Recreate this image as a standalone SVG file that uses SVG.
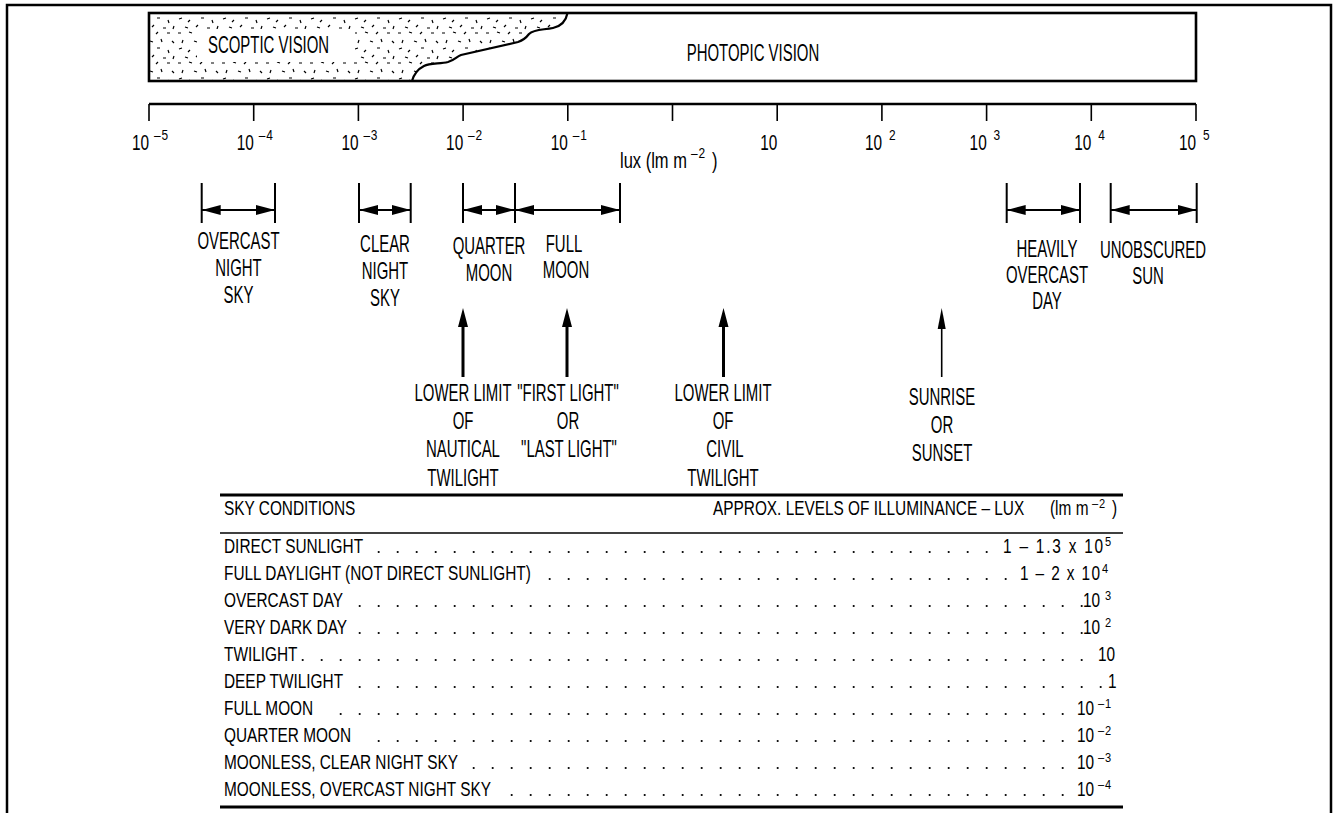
<svg xmlns="http://www.w3.org/2000/svg" width="1337" height="813" viewBox="0 0 1337 813">
<defs>
<style>
text{font-family:"Liberation Sans",Arial,sans-serif;fill:#000}
.lb{font-size:23px;text-anchor:middle}
.ax{font-size:22px}
.sp{font-size:14px;letter-spacing:1px}
.tb{font-size:20px}
.ts{font-size:13px;letter-spacing:1px}
.thin{stroke:#000;stroke-width:1.6;fill:none}
.med{stroke:#000;stroke-width:2.2;fill:none}
.thick{stroke:#000;stroke-width:3;fill:none}
.dots{stroke:#000;stroke-width:2.2;stroke-linecap:round;stroke-dasharray:0 19;fill:none}
</style>
<pattern id="stip" patternUnits="userSpaceOnUse" width="44" height="30">
<path d="M2 3h3M13 2l3 1M24 4l2-2M35 3h3M7 10l-1 3M18 11l3 1M29 9l1 3M40 11l2 2M3 19l3-1M14 20l-2 2M25 18h3M36 20l1 3M9 27l3 1M20 27l2-2M31 28h3M42 26l-1 3" stroke="#000" stroke-width="1.2" fill="none"/>
</pattern>
<marker id="ah" markerUnits="userSpaceOnUse" viewBox="0 0 19 10" refX="19" refY="5" markerWidth="19" markerHeight="10" orient="auto-start-reverse">
<path d="M0,0 L19,5 L0,10 Z" fill="#000"/>
</marker>
</defs>

<g id="frame"><path d="M7,813 V5 H1331 V813" class="thick" style="stroke-width:2.5"/></g>

<g id="vision-bar">
<path d="M149,13 H567.5 C566,21 562,26 553,28 C543,30 534,29 529,34 C526,38 524,40 518,42 L461,55 C456,57 455,60 448,62 C440,64 430,63 424,66 C418,69 414,74 412,81 H149 Z" fill="url(#stip)"/>
<rect x="197" y="29" width="158" height="33" fill="#fff"/>
<path d="M567.5,13 C566,21 562,26 553,28 C543,30 534,29 529,34 C526,38 524,40 518,42 L461,55 C456,57 455,60 448,62 C440,64 430,63 424,66 C418,69 414,74 412,81" class="med"/>
<rect x="149" y="13" width="1047" height="68" class="thick" style="stroke-width:2.6"/>
<text class="lb" style="text-anchor:start" transform="translate(208 53) scale(0.65 1)">SCOPTIC VISION</text>
<text class="lb" transform="translate(753 61) scale(0.65 1)">PHOTOPIC VISION</text>
</g>

<g id="axis">
<path d="M149,104 H1196" class="thick" style="stroke-width:2.6"/>
<path d="M149,104V121M253.7,104V121M358.4,104V121M463.1,104V121M567.8,104V121M672.5,104V121M777.2,104V121M881.9,104V121M986.6,104V121M1091.3,104V121M1196,104V121" class="thin"/>
<text class="ax" transform="translate(132 150) scale(0.7 1)">10</text><text class="sp" transform="translate(154 140) scale(0.85 1)">–5</text>
<text class="ax" transform="translate(236.7 150) scale(0.7 1)">10</text><text class="sp" transform="translate(258.7 140) scale(0.85 1)">–4</text>
<text class="ax" transform="translate(341.4 150) scale(0.7 1)">10</text><text class="sp" transform="translate(363.4 140) scale(0.85 1)">–3</text>
<text class="ax" transform="translate(446.1 150) scale(0.7 1)">10</text><text class="sp" transform="translate(468.1 140) scale(0.85 1)">–2</text>
<text class="ax" transform="translate(550.8 150) scale(0.7 1)">10</text><text class="sp" transform="translate(572.8 140) scale(0.85 1)">–1</text>
<text class="ax" transform="translate(760.2 150) scale(0.7 1)">10</text>
<text class="ax" transform="translate(864.9 150) scale(0.7 1)">10</text><text class="sp" transform="translate(888.9 140) scale(0.85 1)">2</text>
<text class="ax" transform="translate(969.6 150) scale(0.7 1)">10</text><text class="sp" transform="translate(993.6 140) scale(0.85 1)">3</text>
<text class="ax" transform="translate(1074.3 150) scale(0.7 1)">10</text><text class="sp" transform="translate(1098.3 140) scale(0.85 1)">4</text>
<text class="ax" transform="translate(1179 150) scale(0.7 1)">10</text><text class="sp" transform="translate(1203 140) scale(0.85 1)">5</text>
<text class="ax" transform="translate(620 168) scale(0.75 1)">lux (lm m</text><text class="sp" transform="translate(691 158) scale(0.85 1)">–2</text><text class="ax" transform="translate(712 168) scale(0.75 1)">)</text>
</g>

<g id="connectors">
<path d="M201.7,183V223M275,183V223M359,183V223M410.7,183V223M463,183V223M515,183V223M620,183V223M1006.7,183V223M1080,183V223M1110.7,183V223M1196.7,183V223" class="med" style="stroke-width:2"/>
<line x1="201.7" y1="210" x2="275" y2="210" class="med" marker-start="url(#ah)" marker-end="url(#ah)"/>
<line x1="359" y1="210" x2="410.7" y2="210" class="med" marker-start="url(#ah)" marker-end="url(#ah)"/>
<line x1="463" y1="210" x2="515" y2="210" class="med" marker-start="url(#ah)" marker-end="url(#ah)"/>
<line x1="515" y1="210" x2="620" y2="210" class="med" marker-start="url(#ah)" marker-end="url(#ah)"/>
<line x1="1006.7" y1="210" x2="1080" y2="210" class="med" marker-start="url(#ah)" marker-end="url(#ah)"/>
<line x1="1110.7" y1="210" x2="1196.7" y2="210" class="med" marker-start="url(#ah)" marker-end="url(#ah)"/>
<path d="M463,325V377M567,325V377M723.5,325V377" class="thick"/>
<path d="M463,308L458,327H468ZM567,308L562,327H572ZM723.5,308L718.5,327H728.5Z" fill="#000"/>
<path d="M941.7,327V377" class="thin"/>
<path d="M941.7,308L937.7,329H945.7Z" fill="#000"/>
</g>

<g id="overcast-night-sky">
<text class="lb" transform="translate(238.5 249) scale(0.65 1)">OVERCAST</text>
<text class="lb" transform="translate(238.5 276) scale(0.65 1)">NIGHT</text>
<text class="lb" transform="translate(238.5 303) scale(0.65 1)">SKY</text>
</g>
<g id="clear-night-sky">
<text class="lb" transform="translate(385 252) scale(0.65 1)">CLEAR</text>
<text class="lb" transform="translate(385 279) scale(0.65 1)">NIGHT</text>
<text class="lb" transform="translate(385 306) scale(0.65 1)">SKY</text>
</g>
<g id="quarter-moon">
<text class="lb" transform="translate(489 254) scale(0.65 1)">QUARTER</text>
<text class="lb" transform="translate(489 281) scale(0.65 1)">MOON</text>
</g>
<g id="full-moon">
<text class="lb" transform="translate(564 252) scale(0.65 1)">FULL</text>
<text class="lb" transform="translate(566 278) scale(0.65 1)">MOON</text>
</g>
<g id="heavily-overcast-day">
<text class="lb" transform="translate(1047 257) scale(0.65 1)">HEAVILY</text>
<text class="lb" transform="translate(1047 283) scale(0.65 1)">OVERCAST</text>
<text class="lb" transform="translate(1047 309) scale(0.65 1)">DAY</text>
</g>
<g id="unobscured-sun">
<text class="lb" transform="translate(1153 258) scale(0.65 1)">UNOBSCURED</text>
<text class="lb" transform="translate(1148 284) scale(0.65 1)">SUN</text>
</g>
<g id="nautical-twilight">
<text class="lb" transform="translate(463 401) scale(0.65 1)">LOWER LIMIT</text>
<text class="lb" transform="translate(463 429) scale(0.65 1)">OF</text>
<text class="lb" transform="translate(463 457) scale(0.65 1)">NAUTICAL</text>
<text class="lb" transform="translate(463 486) scale(0.65 1)">TWILIGHT</text>
</g>
<g id="first-light">
<text class="lb" transform="translate(568 401) scale(0.65 1)">"FIRST LIGHT"</text>
<text class="lb" transform="translate(568 429) scale(0.65 1)">OR</text>
<text class="lb" transform="translate(569 457) scale(0.65 1)">"LAST LIGHT"</text>
</g>
<g id="civil-twilight">
<text class="lb" transform="translate(723 401) scale(0.65 1)">LOWER LIMIT</text>
<text class="lb" transform="translate(723 429) scale(0.65 1)">OF</text>
<text class="lb" transform="translate(725 457) scale(0.65 1)">CIVIL</text>
<text class="lb" transform="translate(723 486) scale(0.65 1)">TWILIGHT</text>
</g>
<g id="sunrise">
<text class="lb" transform="translate(942 405) scale(0.65 1)">SUNRISE</text>
<text class="lb" transform="translate(942 433) scale(0.65 1)">OR</text>
<text class="lb" transform="translate(942 461) scale(0.65 1)">SUNSET</text>
</g>

<g id="table">
<path d="M220,495H1123M220,807H1123" class="thick"/>
<path d="M220,533H1123" class="thin"/>
<text class="tb" transform="translate(224 515) scale(0.77 1)">SKY CONDITIONS</text>
<text class="tb" transform="translate(713 515) scale(0.77 1)">APPROX. LEVELS OF ILLUMINANCE – LUX</text>
<text class="tb" transform="translate(1050 515) scale(0.77 1)">(lm m</text><text class="ts" transform="translate(1092 508) scale(0.85 1)">–2</text><text class="tb" transform="translate(1112 515) scale(0.77 1)">)</text>

<g class="tb">
<text class="tb" transform="translate(224 553) scale(0.77 1)">DIRECT SUNLIGHT</text>
<text class="tb" transform="translate(224 580) scale(0.77 1)">FULL DAYLIGHT (NOT DIRECT SUNLIGHT)</text>
<text class="tb" transform="translate(224 607) scale(0.77 1)">OVERCAST DAY</text>
<text class="tb" transform="translate(224 634) scale(0.77 1)">VERY DARK DAY</text>
<text class="tb" transform="translate(224 661) scale(0.77 1)">TWILIGHT</text>
<text class="tb" transform="translate(224 688) scale(0.77 1)">DEEP TWILIGHT</text>
<text class="tb" transform="translate(224 715) scale(0.77 1)">FULL MOON</text>
<text class="tb" transform="translate(224 742) scale(0.77 1)">QUARTER MOON</text>
<text class="tb" transform="translate(224 769) scale(0.77 1)">MOONLESS, CLEAR NIGHT SKY</text>
<text class="tb" transform="translate(224 796) scale(0.77 1)">MOONLESS, OVERCAST NIGHT SKY</text>
</g>

<path class="dots" d="M378.7,552H987.2M549.7,579H1006.2M359.7,606H1082.2M359.7,633H1082.2M302.7,660H1082.2M359.7,687H1101.2M340.7,714H1063.2M378.7,741H1063.2M473.7,768H1063.2M511.7,795H1063.2"/>

<text class="tb" transform="translate(1003 553) scale(0.77 1)" textLength="130" lengthAdjust="spacing">1 – 1.3 x 10</text><text class="ts" transform="translate(1105 546) scale(0.85 1)">5</text>
<text class="tb" transform="translate(1020 580) scale(0.77 1)" textLength="104" lengthAdjust="spacing">1 – 2 x 10</text><text class="ts" transform="translate(1102 573) scale(0.85 1)">4</text>
<text class="tb" transform="translate(1083 607) scale(0.77 1)">10</text><text class="ts" transform="translate(1105 600) scale(0.85 1)">3</text>
<text class="tb" transform="translate(1083 634) scale(0.77 1)">10</text><text class="ts" transform="translate(1105 627) scale(0.85 1)">2</text>
<text class="tb" transform="translate(1098 661) scale(0.77 1)">10</text>
<text class="tb" transform="translate(1108 688) scale(0.77 1)">1</text>
<text class="tb" transform="translate(1077 715) scale(0.77 1)">10</text><text class="ts" transform="translate(1098 708) scale(0.85 1)">–1</text>
<text class="tb" transform="translate(1077 742) scale(0.77 1)">10</text><text class="ts" transform="translate(1098 735) scale(0.85 1)">–2</text>
<text class="tb" transform="translate(1077 769) scale(0.77 1)">10</text><text class="ts" transform="translate(1098 762) scale(0.85 1)">–3</text>
<text class="tb" transform="translate(1077 796) scale(0.77 1)">10</text><text class="ts" transform="translate(1098 789) scale(0.85 1)">–4</text>
</g>
</svg>
